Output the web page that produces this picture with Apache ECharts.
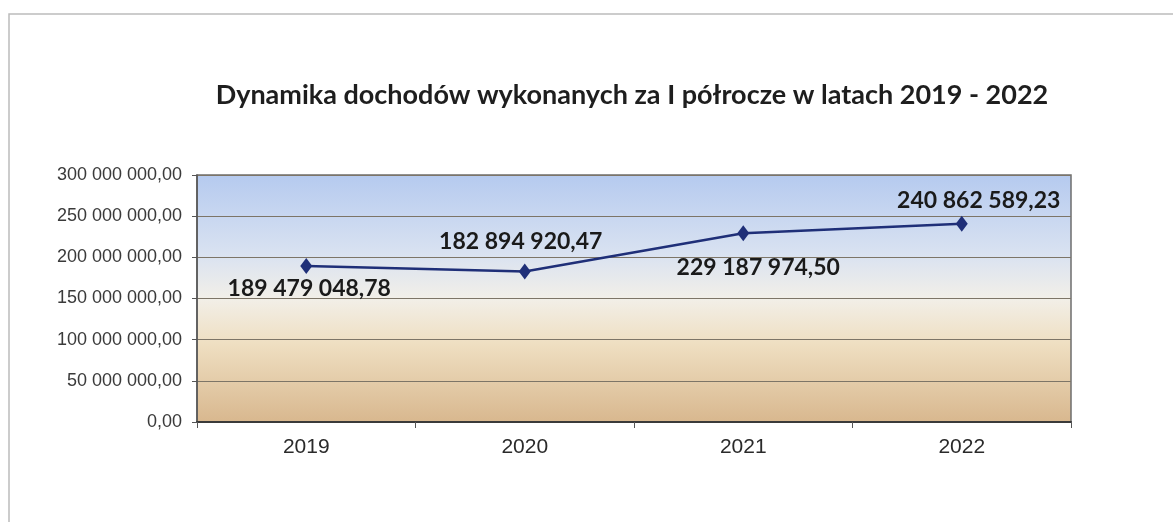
<!DOCTYPE html>
<html>
<head>
<meta charset="utf-8">
<title>Dynamika dochodów</title>
<script src="https://cdn.jsdelivr.net/npm/echarts@6/dist/echarts.min.js"></script>
<style>
  html, body { margin: 0; padding: 0; background: #fff; }
  #chart { width: 1173px; height: 522px; }
</style>
</head>
<body>
<div id="chart"></div>
<script>
// dane z wykresu
var years = ['2019', '2020', '2021', '2022'];
var incomes = [189479048.78, 182894920.47, 229187974.50, 240862589.23];
var yTicks = [0, 50000000, 100000000, 150000000, 200000000, 250000000, 300000000];

// format polski: 189 479 048,78
function plFormat(v) {
    var parts = Number(v).toFixed(2).split('.');
    return parts[0].replace(/\B(?=(\d{3})+(?!\d))/g, ' ') + ',' + parts[1];
}

// gdzie stoi etykieta przy kazdym punkcie
var labelPos = ['bottom', 'top', 'bottom', 'top'];
var labelOff = [[3, -2], [-4, -5], [15, 10], [17, 1]];

var seriesData = incomes.map(function (v, i) {
    return {
        value: v,
        label: { position: labelPos[i], offset: labelOff[i] }
    };
});

var myChart = echarts.init(document.getElementById('chart'));
var option = {
    animation: false,
    backgroundColor: '#fff',
    title: {
        text: 'Dynamika dochodów wykonanych za I półrocze w latach 2019 - 2022',
        left: 627,
        top: 77,
        textAlign: 'center',
        textStyle: {
            fontFamily: 'Lato',
            fontWeight: 'bold',
            fontSize: 27,
            color: '#1e1e1e'
        }
    },
    graphic: [{
        type: 'rect',
        shape: { x: 9, y: 14, width: 1200, height: 540 },
        style: { fill: 'none', stroke: '#bcbcbc', lineWidth: 1.5 },
        silent: true
    }],
    grid: {
        left: 197,
        right: 102,
        top: 175,
        bottom: 100,
        show: true,
        borderColor: '#6e6e6e',
        borderWidth: 1.5,
        backgroundColor: new echarts.graphic.LinearGradient(0, 0, 0, 1, [
            { offset: 0, color: '#b5caef' },
            { offset: 0.32, color: '#d9e2f1' },
            { offset: 0.5, color: '#f2efe8' },
            { offset: 0.68, color: '#efdfc2' },
            { offset: 1, color: '#d8b78e' }
        ])
    },
    xAxis: {
        type: 'category',
        data: years,
        boundaryGap: true,
        axisLine: { lineStyle: { color: '#3a3a3a', width: 2 } },
        axisTick: { show: true, length: 6, lineStyle: { color: '#555' } },
        axisLabel: {
            margin: 15,
            fontFamily: 'Liberation Sans',
            fontSize: 21,
            color: '#2a2a2a'
        }
    },
    yAxis: {
        type: 'value',
        min: yTicks[0],
        max: yTicks[yTicks.length - 1],
        interval: yTicks[1] - yTicks[0],
        axisLine: { show: true, lineStyle: { color: '#555', width: 1.5 } },
        axisTick: { show: true, length: 5, lineStyle: { color: '#555' } },
        axisLabel: {
            margin: 15,
            fontFamily: 'Liberation Sans',
            fontSize: 18,
            color: '#3a3a3a',
            formatter: function (v) { return plFormat(v); }
        },
        splitLine: { lineStyle: { color: '#7d7567', width: 1.2 } }
    },
    series: [{
        name: 'Dochody',
        type: 'line',
        data: seriesData,
        symbol: 'diamond',
        symbolSize: [12, 16],
        lineStyle: { color: '#1f2f78', width: 2.5 },
        itemStyle: { color: '#1f2f78' },
        label: {
            show: true,
            fontFamily: 'Lato',
            fontWeight: 'bold',
            fontSize: 23,
            color: '#1a1a1a',
            formatter: function (p) { return plFormat(p.value); }
        }
    }]
};
myChart.setOption(option);
</script>
</body>
</html>
